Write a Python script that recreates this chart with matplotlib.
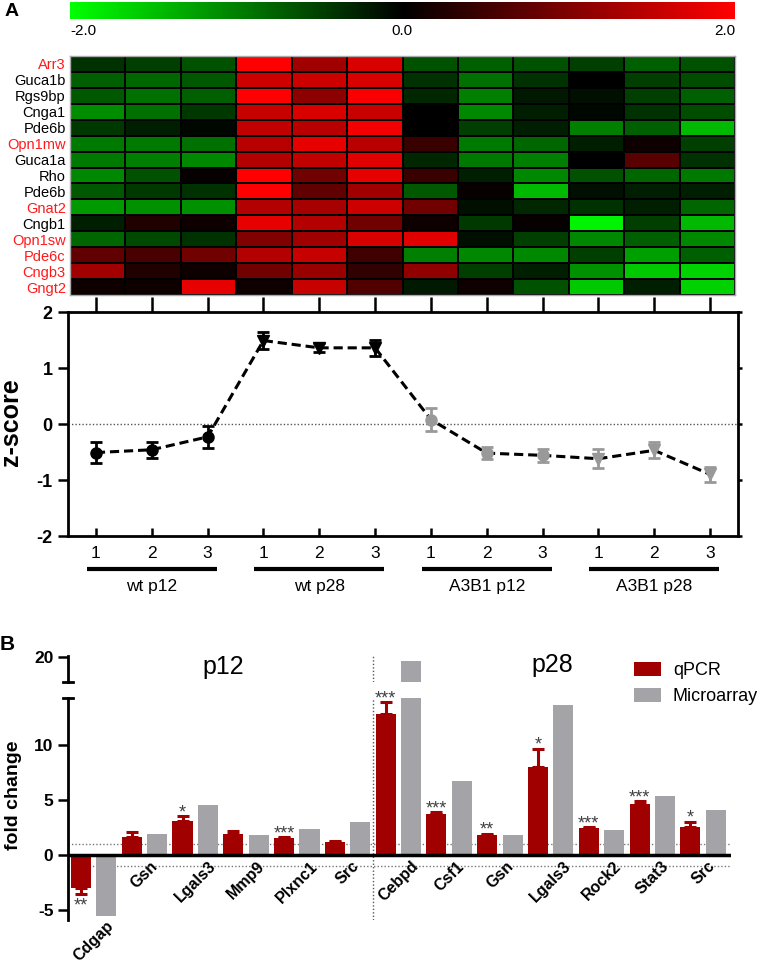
import numpy as np
import matplotlib
matplotlib.use('Agg')
import matplotlib.pyplot as plt
from matplotlib.colors import LinearSegmentedColormap, Normalize
from matplotlib.cm import ScalarMappable
from matplotlib.patches import Patch
import matplotlib.transforms as mtrans

plt.rcParams['font.family'] = ['Liberation Sans', 'DejaVu Sans']

# ---------------- data ----------------
genes = ['Arr3', 'Guca1b', 'Rgs9bp', 'Cnga1', 'Pde6b', 'Opn1mw', 'Guca1a', 'Rho',
         'Pde6b', 'Gnat2', 'Cngb1', 'Opn1sw', 'Pde6c', 'Cngb3', 'Gngt2']
gene_is_cone = [True, False, False, False, False, True, False, False,
                False, True, False, True, True, True, True]
heat = [
    [-0.38, -0.50, -0.63, 2.00, 1.25, 1.70, -0.63, -0.75, -0.63, -0.50, -0.75, -0.63],
    [-0.75, -0.80, -0.70, 1.60, 1.60, 1.70, -0.38, -0.88, -0.38, 0.00, -0.50, -0.60],
    [-0.70, -0.88, -0.75, 2.00, 1.10, 1.95, -0.30, -1.00, -0.20, -0.12, -0.50, -0.75],
    [-1.10, -0.88, -0.45, 1.55, 1.70, 1.55, 0.00, -1.07, -0.25, -0.06, -0.38, -0.60],
    [-0.45, -0.25, -0.06, 1.50, 1.45, 1.90, 0.00, -0.50, -0.25, -1.00, -0.75, -1.45],
    [-0.95, -0.95, -0.88, 1.45, 1.80, 1.45, 0.45, -0.95, -0.80, -0.25, 0.12, -0.50],
    [-0.95, -1.00, -1.07, 1.40, 1.50, 1.75, -0.30, -0.95, -1.00, 0.00, 0.70, -0.38],
    [-1.07, -0.63, 0.06, 2.00, 0.88, 1.80, 0.45, -0.25, -1.07, -0.63, -0.80, -0.95],
    [-0.70, -0.45, -0.38, 2.00, 0.75, 1.25, -0.70, 0.06, -1.45, -0.12, -0.25, -0.25],
    [-1.20, -1.13, -1.13, 1.40, 1.30, 1.60, 0.88, -0.12, -0.30, -0.38, -0.25, -0.80],
    [-0.25, 0.25, 0.12, 1.80, 1.40, 0.88, 0.12, -0.45, 0.06, -1.90, -0.50, -1.45],
    [-0.80, -0.57, -0.38, 1.00, 1.25, 1.70, 1.75, -0.12, -0.50, -1.07, -0.75, -1.07],
    [0.75, 0.57, 0.88, 1.40, 1.55, 0.50, -1.00, -1.07, -1.07, -0.50, -1.25, -0.75],
    [1.25, 0.25, 0.12, 0.88, 1.20, 0.38, 1.13, -0.50, -0.25, -1.13, -1.57, -1.63],
    [0.12, 0.12, 1.80, 0.12, 1.55, 0.63, -0.20, 0.12, -0.63, -1.57, -0.25, -1.63],
]
sample_labels = ['1', '2', '3'] * 4
group_labels = ['wt p12', 'wt p28', 'A3B1 p12', 'A3B1 p28']
z_mean = [-0.51, -0.46, -0.23, 1.49, 1.36, 1.36, 0.08, -0.52, -0.56, -0.62, -0.47, -0.90]
z_err = [0.18, 0.14, 0.20, 0.15, 0.08, 0.14, 0.20, 0.11, 0.11, 0.17, 0.14, 0.13]

bar_genes = ['Cdgap', 'Gsn', 'Lgals3', 'Mmp9', 'Plxnc1', 'Src',
             'Cebpd', 'Csf1', 'Gsn', 'Lgals3', 'Rock2', 'Stat3', 'Src']
qpcr = [-2.95, 1.65, 3.1, 1.9, 1.6, 1.2, 12.8, 3.7, 1.85, 8.0, 2.45, 4.7, 2.6]
qpcr_err = [0.6, 0.45, 0.45, 0.3, 0.05, 0.05, 1.1, 0.2, 0.1, 1.7, 0.1, 0.2, 0.45]
micro = [-5.5, 1.9, 4.6, 1.8, 2.4, 3.0, 19.6, 6.75, 1.85, 13.7, 2.3, 5.4, 4.15]
stars = ['**', '', '*', '', '***', '', '***', '***', '**', '*', '***', '***', '*']

# ---------------- layout helpers ----------------
W, H = 761, 963
fig = plt.figure(figsize=(W / 100, H / 100), dpi=100)


def ax_px(l, t, r, b):
    return fig.add_axes([l / W, 1 - b / H, (r - l) / W, (b - t) / H])


def ftext(x, y, s, **kw):
    return fig.text(x / W, 1 - y / H, s, **kw)


RED = '#a00000'
GRAY = '#a3a3a8'
cmap = LinearSegmentedColormap.from_list('gkr', [(0, 1, 0), (0, 0, 0), (1, 0, 0)])
norm = Normalize(-2, 2)

# ---------------- panel A: colorbar ----------------
cax = ax_px(70, 2, 735, 19)
cb = fig.colorbar(ScalarMappable(norm=norm, cmap=cmap), cax=cax, orientation='horizontal')
cb.set_ticks([])
cb.outline.set_visible(False)
ftext(70, 31, '-2.0', ha='left', va='center', fontsize=11)
ftext(402, 31, '0.0', ha='center', va='center', fontsize=11)
ftext(735, 31, '2.0', ha='right', va='center', fontsize=11)
ftext(12, 11, 'A', ha='center', va='center', fontsize=14, fontweight='bold')

# ---------------- heatmap ----------------
hax = ax_px(70, 56, 735, 295)
hax.pcolormesh(np.array(heat), cmap=cmap, norm=norm, edgecolors='black', linewidth=1.3)
hax.set_xlim(0, 12)
hax.set_ylim(len(genes), 0)
hax.set_xticks([])
hax.set_yticks(np.arange(len(genes)) + 0.5)
hax.set_yticklabels(genes, fontsize=10.5)
for lab, cone in zip(hax.get_yticklabels(), gene_is_cone):
    lab.set_color('#ff1a1a' if cone else 'black')
hax.tick_params(axis='y', length=0, pad=3)
for s in hax.spines.values():
    s.set_color('#aaaaaa')
    s.set_linewidth(1)

# ---------------- z-score plot ----------------
zax = ax_px(68, 312, 738, 536)
xs = np.arange(1, 13)
zax.plot(xs, z_mean, color='black', lw=2.2, ls=(0, (3, 1.6)), zorder=2)
styles = [('o', 'black'), ('v', 'black'), ('o', '#999999'), ('v', '#999999')]
for g in range(4):
    sl = slice(3 * g, 3 * g + 3)
    mk, col = styles[g]
    zax.errorbar(xs[sl], z_mean[sl], yerr=z_err[sl], fmt=mk, color=col, ms=8,
                 capsize=4.3, capthick=2, elinewidth=2, zorder=3)
zax.axhline(0, color='#555555', lw=1, ls=(0, (1, 1.5)), zorder=1)
zax.set_xlim(0.5, 12.5)
zax.set_ylim(-2, 2)
zax.set_yticks([-2, -1, 0, 1, 2])
zax.set_yticklabels(['-2', '-1', '0', '1', '2'], fontsize=13, fontweight='bold')
zax.set_xticks(xs)
zax.set_xticklabels(sample_labels, fontsize=12.5)
zax.xaxis.remove_overlapping_locs = False
zax.yaxis.remove_overlapping_locs = False
zax.set_xticks(xs, minor=True)
zax.set_yticks([-2, -1, 0, 1, 2], minor=True)
zax.tick_params(axis='x', which='major', direction='in', length=6, width=1.8,
                bottom=True, top=False, pad=7)
zax.tick_params(axis='x', which='minor', direction='out', length=11, width=1.8,
                bottom=False, top=True)
zax.tick_params(axis='y', which='major', direction='out', length=7, width=1.8,
                left=True, right=False, pad=4)
zax.tick_params(axis='y', which='minor', direction='out', length=3, width=1.8,
                left=False, right=True)
for s in zax.spines.values():
    s.set_linewidth(2)
trans = mtrans.blended_transform_factory(zax.transData, zax.transAxes)
for g, lab in enumerate(group_labels):
    x0, x1 = 3 * g + 1 - 0.16, 3 * g + 3 + 0.16
    zax.plot([x0, x1], [-0.147, -0.147], color='black', lw=3, transform=trans,
             clip_on=False, solid_capstyle='butt')
    zax.text(3 * g + 2, -0.225, lab, transform=trans, ha='center', va='center',
             fontsize=12.5)
ftext(11, 422, 'z-score', rotation=90, ha='center', va='center', fontsize=18,
      fontweight='bold')

# ---------------- panel B ----------------
ftext(7, 645, 'B', ha='center', va='center', fontsize=15, fontweight='bold')
bax = ax_px(68, 698, 731, 920)
uax = ax_px(68, 656, 731, 682)
x_red = 2 * np.arange(len(bar_genes))
x_gray = x_red + 1
for a in (bax, uax):
    a.bar(x_red, qpcr, width=0.79, color=RED, zorder=2)
    a.bar(x_gray, micro, width=0.79, color=GRAY, zorder=2)
    a.set_xlim(-0.51, 25.6)
    a.axvline(11.5, color='#555555', lw=1, ls=(0, (1, 1.5)), zorder=1)
    for k in ('top', 'right', 'bottom'):
        a.spines[k].set_visible(False)
    a.spines['left'].set_linewidth(2)
    a.set_xticks([])
    a.tick_params(axis='y', direction='out', length=7, width=1.8, labelsize=12)
bax.set_ylim(-5.9, 14.3)
uax.set_ylim(17.7, 20.1)
bax.set_yticks([-5, 0, 5, 10])
bax.set_yticklabels(['-5', '0', '5', '10'], fontweight='bold', fontsize=12.5)
uax.set_yticks([20])
uax.set_yticklabels(['20'], fontweight='bold', fontsize=12.5)
# break caps
uax.plot([-0.007, 0.007], [0, 0], transform=uax.transAxes, color='black', lw=2, clip_on=False)
bax.plot([-0.007, 0.007], [1, 1], transform=bax.transAxes, color='black', lw=2, clip_on=False)

bax.axhline(0, color='black', lw=2.5, zorder=4)
bax.axhline(1, color='#777777', lw=1, ls=(0, (1, 1.5)), zorder=1)
bax.axhline(-1, color='#777777', lw=1, ls=(0, (1, 1.5)), zorder=1)

for i, (v, e) in enumerate(zip(qpcr, qpcr_err)):
    if v >= 0:
        yerr = [[0], [e]]
    else:
        yerr = [[e], [0]]
    bax.errorbar([x_red[i]], [v], yerr=yerr, fmt='none', ecolor=RED,
                 elinewidth=2.2, capsize=4.3, capthick=2.2, zorder=3)
    if stars[i]:
        if v >= 0:
            bax.text(x_red[i], v + e - 0.1, stars[i], ha='center', va='baseline',
                     fontsize=13, color='#404040')
        else:
            bax.text(x_red[i], v - e - 0.3, stars[i], ha='center', va='top',
                     fontsize=13, color='#404040')

for i, g in enumerate(bar_genes):
    yl = -0.3 if micro[i] > 0 else -5.75
    bax.text(x_red[i] + 0.5, yl, g, rotation=45, ha='center', va='top',
             fontsize=11.5, fontweight='bold', clip_on=False)

ftext(223, 667, 'p12', ha='center', va='center', fontsize=18)
ftext(552, 665, 'p28', ha='center', va='center', fontsize=18)
ftext(14, 795, 'fold change', rotation=90, ha='center', va='center', fontsize=14,
      fontweight='bold')

handles = [Patch(facecolor=RED, edgecolor='none', label='qPCR'),
           Patch(facecolor=GRAY, edgecolor='none', label='Microarray')]
fig.legend(handles=handles, loc='upper left', bbox_to_anchor=(634 / W, 1 - 662 / H),
           frameon=False, fontsize=13, handlelength=1.5, handleheight=0.85,
           handletextpad=0.65, labelspacing=0.45, borderpad=0, borderaxespad=0)

fig.savefig('out.png', dpi=100)
